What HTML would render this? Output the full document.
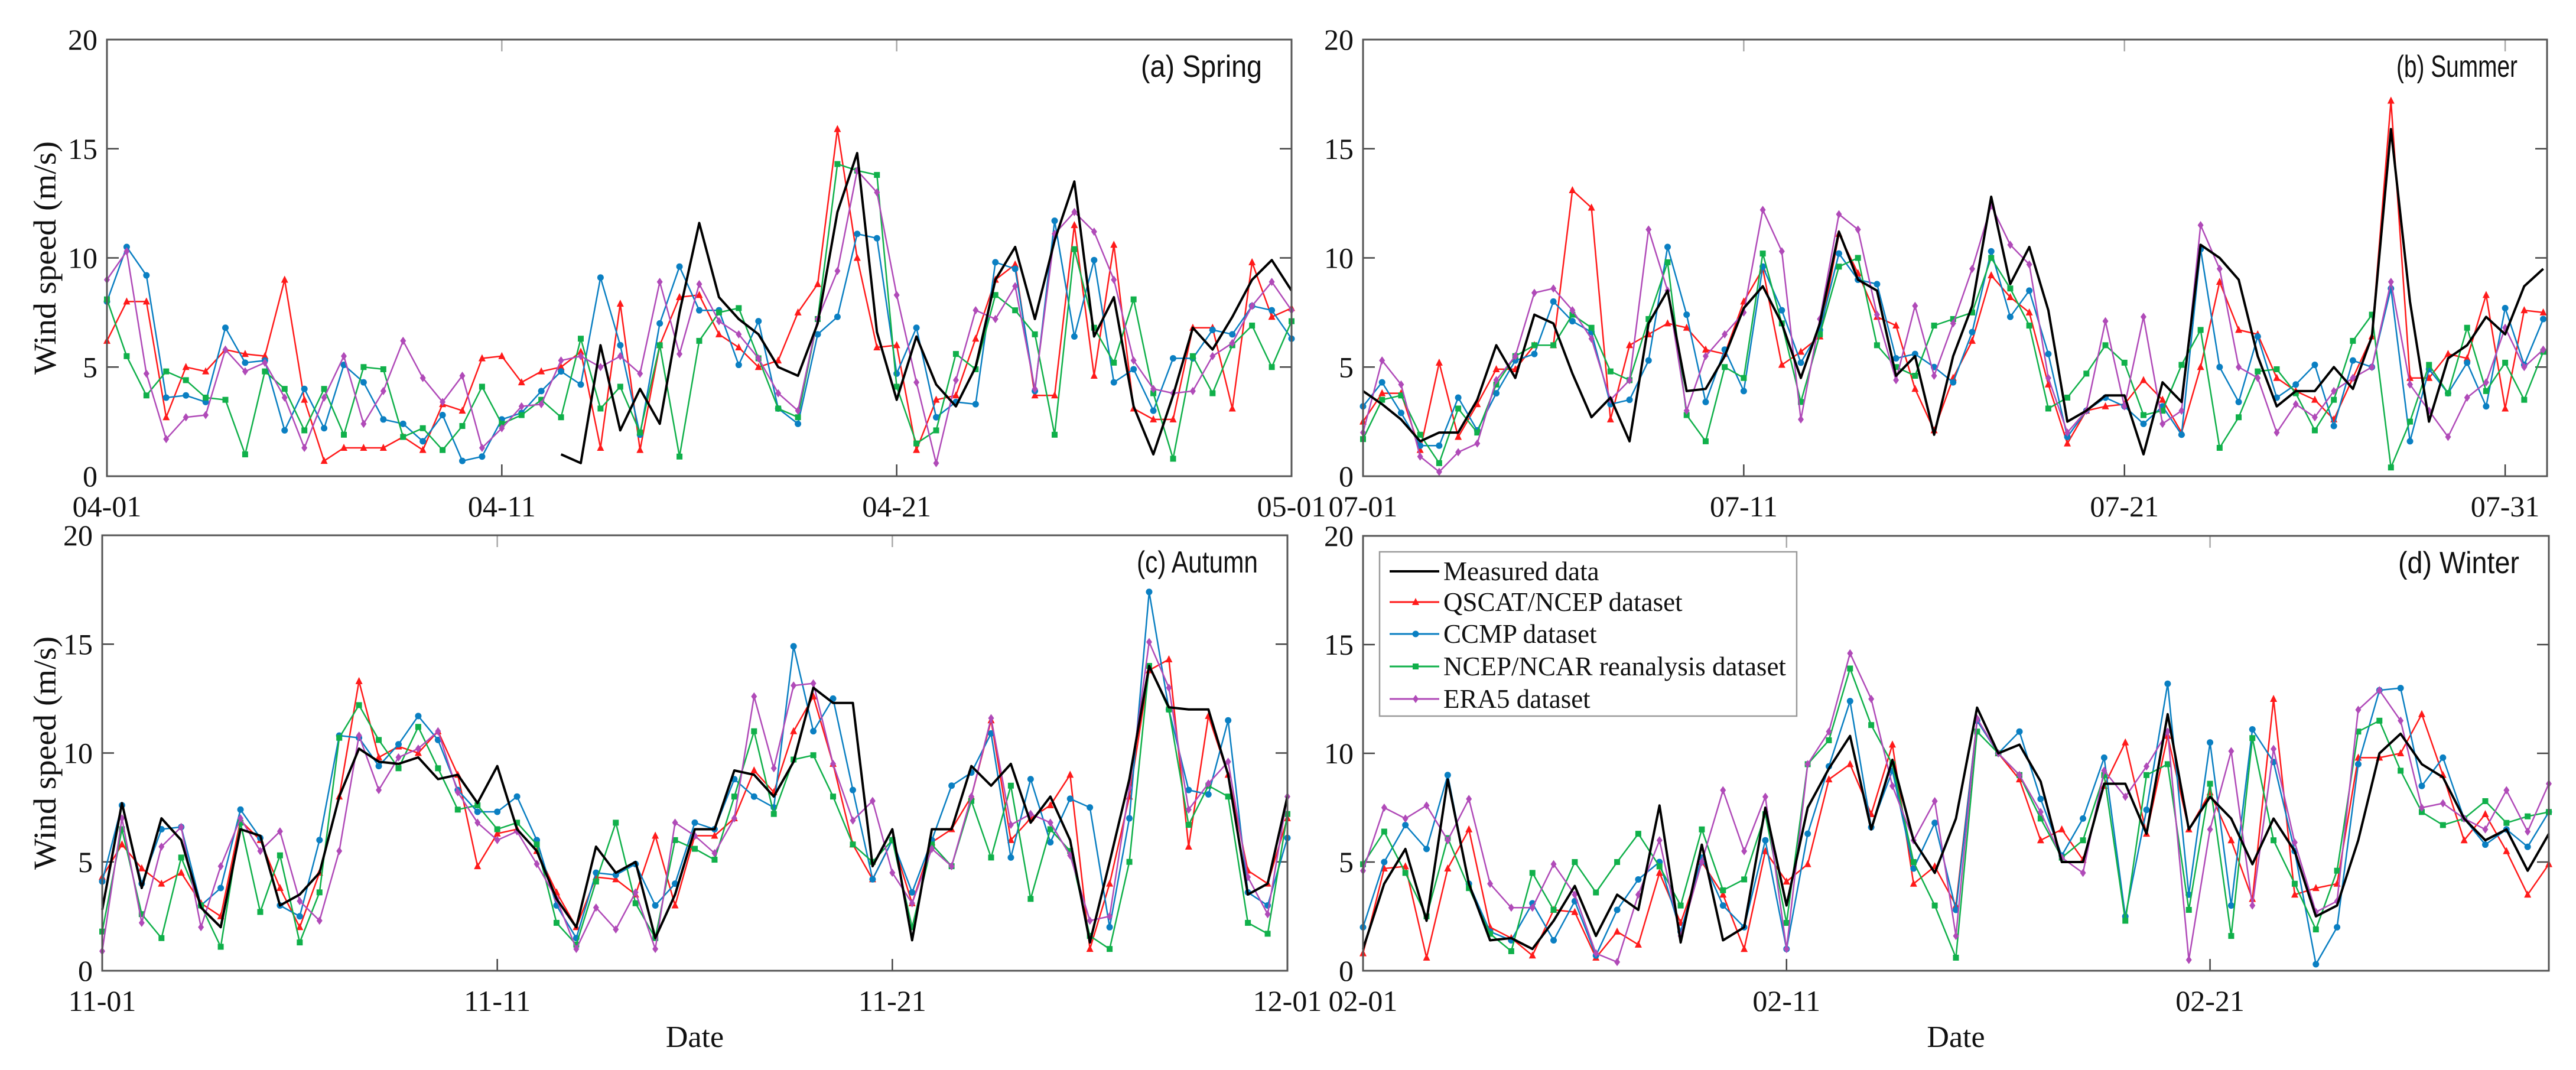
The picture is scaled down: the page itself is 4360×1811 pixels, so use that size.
<!DOCTYPE html>
<html><head><meta charset="utf-8"><style>
html,body{margin:0;padding:0;background:#fff;}
svg{display:block;}
text{font-family:"Liberation Serif",serif;fill:#111;}
.ttl{font-family:"Liberation Sans",sans-serif;}
</style></head><body>
<svg id="chart" width="4360" height="1811" viewBox="0 0 4360 1811" xmlns="http://www.w3.org/2000/svg"></svg>
<script>
// ---- data (0.5-day steps) ----
const seriesNames = ["Measured data","QSCAT/NCEP dataset","CCMP dataset","NCEP/NCAR reanalysis dataset","ERA5 dataset"];
const springTicks = ["04-01","04-11","04-21","05-01"];
const summerTicks = ["07-01","07-11","07-21","07-31"];
const autumnTicks = ["11-01","11-11","11-21","12-01"];
const winterTicks = ["02-01","02-11","02-21"];
const yTicks = [0,5,10,15,20];

const springMeasured = [null,null,null,null,null,null,null,null,null,null,null,null,null,null,null,null,null,null,null,null,null,null,null,1.0,0.6,6.0,2.1,4.0,2.4,7.5,11.6,8.2,7.2,6.5,5.0,4.6,7.0,12.1,14.8,6.6,3.5,6.4,4.2,3.2,5.0,9.0,10.5,7.2,10.8,13.5,6.4,8.2,3.2,1.0,3.7,6.8,5.8,7.3,9.0,9.9,8.5];
const springQscat = [6.2,8,8,2.7,5,4.8,5.8,5.6,5.5,9.0,3.5,0.7,1.3,1.3,1.3,1.8,1.2,3.3,3.0,5.4,5.5,4.3,4.8,5.0,5.7,1.3,7.9,1.2,6.0,8.2,8.3,6.5,5.9,5.0,5.3,7.5,8.8,15.9,10,5.9,6.0,1.2,3.5,3.7,6.3,9.0,9.7,3.7,3.7,11.5,4.6,10.6,3.1,2.6,2.6,6.8,6.8,3.1,9.8,7.3,7.7];
const springCcmp = [8,10.5,9.2,3.6,3.7,3.4,6.8,5.2,5.3,2.1,4.0,2.2,5.1,4.3,2.6,2.4,1.6,2.8,0.7,0.9,2.6,2.9,3.9,4.8,4.2,9.1,6.0,1.9,7.0,9.6,7.6,7.6,5.1,7.1,3.1,2.4,6.5,7.3,11.1,10.9,4.7,6.8,2.7,3.4,3.3,9.8,9.5,3.9,11.7,6.4,9.9,4.3,4.9,3.0,5.4,5.4,6.7,6.5,7.8,7.6,6.3];
const springNcep = [8.1,5.5,3.7,4.8,4.4,3.6,3.5,1.0,4.8,4.0,2.1,4.0,1.9,5.0,4.9,1.8,2.2,1.2,2.3,4.1,2.4,2.8,3.5,2.7,6.3,3.1,4.1,2.0,6.0,0.9,6.2,7.5,7.7,5.4,3.1,2.7,7.2,14.3,14,13.8,4.1,1.5,2.1,5.6,4.9,8.3,7.6,6.5,1.9,10.4,6.8,5.2,8.1,3.8,0.8,5.5,3.8,6.0,6.9,5.0,7.1];
const springEra5 = [9.0,10.3,4.7,1.7,2.7,2.8,5.8,4.8,5.2,3.6,1.3,3.6,5.5,2.4,3.9,6.2,4.5,3.4,4.6,1.3,2.2,3.2,3.3,5.3,5.5,5.0,5.5,4.7,8.9,5.6,8.8,7.1,6.5,5.4,3.8,3.0,7.2,9.4,14,13,8.3,4.3,0.6,4.4,7.6,7.2,8.7,4.0,11.1,12.1,11.2,9.0,5.3,4.0,3.8,3.9,5.5,6.1,7.8,8.9,7.6];

const summerMeasured = [3.9,3.3,2.6,1.6,2.0,2.0,3.5,6.0,4.5,7.4,7.0,4.7,2.7,3.6,1.6,7.0,8.5,3.9,4.0,5.5,7.7,8.7,7.0,4.5,7.0,11.2,9.0,8.5,4.6,5.5,1.9,5.5,7.8,12.8,8.8,10.5,7.6,2.5,3.0,3.7,3.7,1.0,4.3,3.4,10.6,10.0,9.0,5.5,3.2,3.9,3.9,5.0,4.0,6.4,15.9,8.0,2.5,5.4,6.0,7.3,6.5,8.7,9.5];
const summerQscat = [2.5,3.8,3.8,1.2,5.2,1.8,3.3,4.9,4.9,6.0,6.0,13.1,12.3,2.6,6.0,6.5,7.0,6.8,5.8,5.6,8.0,9.5,5.1,5.7,6.4,11.1,9.3,7.3,6.9,4.0,2.1,4.5,6.2,9.2,8.2,7.5,4.2,1.5,3.0,3.2,3.3,4.4,3.5,2.0,5.0,8.9,6.7,6.5,4.5,3.9,3.5,2.6,4.5,6.4,17.2,4.5,4.5,5.6,5.4,8.3,3.1,7.6,7.5];
const summerCcmp = [3.2,4.3,2.9,1.4,1.4,3.6,2.1,3.8,5.3,5.6,8.0,7.1,6.6,3.3,3.5,5.3,10.5,7.4,3.4,5.8,3.9,9.6,7.6,5.2,6.7,10.2,9.0,8.8,5.4,5.6,5.0,4.3,6.6,10.3,7.3,8.5,5.6,1.8,3.0,3.6,3.2,2.4,3.2,1.9,10.4,5.0,3.4,6.4,3.6,4.2,5.1,2.3,5.3,5.0,8.6,1.6,4.9,3.8,5.2,3.2,7.7,5.1,7.2];
const summerNcep = [1.7,3.5,3.7,1.9,0.6,3.1,2.0,4.2,5.5,6.0,6.0,7.4,6.8,4.8,4.4,7.2,9.8,2.8,1.6,5.0,4.5,10.2,7.0,3.4,6.5,9.6,10.0,6.0,5.0,4.6,6.9,7.2,7.5,10.0,8.6,6.9,3.1,3.6,4.7,6.0,5.2,2.8,3.0,5.1,6.7,1.3,2.7,4.8,4.9,3.8,2.1,3.5,6.2,7.4,0.4,2.5,5.1,3.8,6.8,3.9,5.2,3.5,5.7];
const summerEra5 = [2.0,5.3,4.2,0.9,0.2,1.1,1.5,4.4,5.5,8.4,8.6,7.6,6.3,3.5,4.4,11.3,8.5,3.0,5.5,6.5,7.5,12.2,10.3,2.6,7.2,12.0,11.3,7.4,4.4,7.8,4.6,7.0,9.5,12.4,10.6,9.7,4.5,2.0,3.0,7.1,3.2,7.3,2.4,3.0,11.5,9.5,5.0,4.5,2.0,3.3,2.7,3.9,4.5,5.0,8.9,4.2,3.0,1.8,3.6,4.3,6.8,5.0,5.8];

const autumnMeasured = [2.8,7.7,3.8,7.0,6.0,2.9,2.0,6.5,6.2,3.0,3.5,4.5,8.0,10.2,9.6,9.5,9.8,8.8,9.0,7.7,9.4,6.5,5.5,3.3,2.0,5.7,4.5,5.0,1.5,3.5,6.5,6.5,9.2,9.0,8.0,9.6,13.0,12.3,12.3,4.8,6.5,1.4,6.5,6.5,9.4,8.5,9.5,6.8,8.0,6.0,1.3,5.0,8.8,14.0,12.1,12.0,12.0,9.0,3.5,4.0,8.0];
const autumnQscat = [4.3,5.8,4.7,4.0,4.5,3.1,2.5,6.9,6.0,3.8,2.0,4.5,8.0,13.3,9.8,10.3,10.0,11.0,9.0,4.8,6.3,6.5,5.5,3.6,2.0,4.3,4.2,3.5,6.2,3.0,6.2,6.2,7.0,9.2,8.2,11.0,12.6,9.5,5.8,4.2,6.0,3.1,5.9,6.5,8.0,11.5,6.0,7.0,7.6,9.0,1.0,4.0,8.0,13.8,14.3,5.7,11.7,9.0,4.6,4.0,7.0];
const autumnCcmp = [4.1,7.6,4.0,6.5,6.6,3.0,3.8,7.4,6.1,3.0,2.5,6.0,10.8,10.7,9.4,10.4,11.7,10.6,8.3,7.3,7.3,8.0,6.0,3.0,1.5,4.5,4.4,4.9,3.0,4.0,6.8,6.5,8.8,8.0,7.5,14.9,11.0,12.5,8.3,4.2,6.0,3.6,6.0,8.5,9.1,10.9,5.2,8.8,5.9,7.9,7.5,2.0,7.0,17.4,12.0,8.3,8.1,11.5,3.6,3.0,6.1];
const autumnNcep = [1.8,6.5,2.6,1.5,5.2,3.0,1.1,6.8,2.7,5.3,1.3,3.6,10.7,12.2,10.6,9.3,11.2,9.3,7.4,7.6,6.5,6.8,5.8,2.2,1.2,4.1,6.8,3.1,1.5,6.0,5.6,5.1,8.0,11.0,7.2,9.7,9.9,8.0,5.8,5.0,6.0,2.0,5.8,4.8,7.8,5.2,8.5,3.3,6.5,5.5,1.6,1.0,5.0,14.0,12.0,6.7,8.5,8.0,2.2,1.7,7.2];
const autumnEra5 = [0.9,7.0,2.2,5.7,6.6,2.0,4.8,7.0,5.5,6.4,3.2,2.3,5.5,10.8,8.3,9.8,10.2,11.0,8.2,6.8,6.0,6.4,4.9,3.3,1.0,2.9,1.9,3.6,1.0,6.8,6.2,5.4,7.0,12.6,9.3,13.1,13.2,9.5,6.9,7.8,4.5,3.1,5.6,4.8,8.0,11.6,6.7,7.2,6.8,5.3,2.3,2.5,8.4,15.1,13.0,7.4,8.6,9.6,4.3,2.6,8.0];

const winterMeasured = [1.0,4.0,5.6,2.3,8.8,4.0,1.4,1.5,1.0,2.3,3.9,1.6,3.5,2.8,7.6,1.3,5.8,1.4,2.0,7.5,3.0,7.5,9.3,10.8,6.5,9.7,6.0,4.5,7.0,12.1,10.0,10.4,8.7,5.0,5.0,8.6,8.6,6.3,11.8,6.5,8.0,7.0,4.9,7.0,5.5,2.5,3.0,6.0,10.0,10.9,9.5,8.9,7.0,6.0,6.5,4.6,6.3];
const winterQscat = [0.8,4.7,4.8,0.6,4.7,6.5,2.0,1.5,0.7,2.8,2.7,0.6,1.8,1.2,4.5,2.2,5.0,3.5,1.0,5.5,4.1,4.9,8.8,9.5,7.2,10.4,4.0,4.8,3.0,11.5,10.0,8.8,6.0,6.5,5.1,8.5,10.5,6.3,10.8,6.5,8.2,6.0,3.3,12.5,3.5,3.8,4.0,9.8,9.8,10.0,11.8,9.0,6.0,7.2,5.5,3.5,4.9];
const winterCcmp = [2.0,5.0,6.7,5.6,9.0,4.0,1.8,1.4,3.1,1.4,3.2,0.7,2.8,4.2,5.0,1.8,5.2,3.0,2.0,6.0,1.0,6.3,9.4,12.4,6.6,9.2,4.7,6.8,2.8,11.5,10.0,11.0,7.9,5.3,7.0,9.8,2.5,7.4,13.2,3.5,10.5,3.0,11.1,9.6,5.5,0.3,2.0,9.5,12.9,13.0,8.5,9.8,7.0,5.8,6.5,5.7,7.3];
const winterNcep = [4.9,6.4,4.5,2.5,6.1,3.8,1.7,0.9,4.5,2.8,5.0,3.6,5.0,6.3,4.8,3.0,6.5,3.7,4.2,7.2,2.2,9.5,10.6,13.9,11.3,9.5,5.0,3.0,0.6,11.0,10.0,9.0,7.0,5.2,6.0,9.0,2.3,9.0,9.5,2.8,8.6,1.6,10.7,6.0,4.0,1.9,4.6,11.0,11.5,9.2,7.3,6.7,7.0,7.8,6.8,7.1,7.3];
const winterEra5 = [4.6,7.5,7.0,7.6,6.0,7.9,4.0,2.9,2.9,4.9,3.5,0.8,0.4,3.5,6.0,1.6,5.0,8.3,5.5,8.0,1.0,9.5,11.0,14.6,12.5,8.5,6.0,7.8,1.6,11.6,10.0,9.0,7.3,5.2,4.5,9.2,8.0,9.4,11.0,0.5,6.5,10.1,3.0,10.2,5.9,2.7,3.2,12.0,12.9,11.5,7.5,7.7,7.0,6.5,8.3,6.4,8.6];

const colors = ["#000000","#ff1a1a","#0a7fc2","#10b04a","#b04ab8"];
const markers = [null,"tri","circ","sq","dia"];
const SVGNS = "http://www.w3.org/2000/svg";
const svg = document.getElementById("chart");

function mk(tag, attrs, parent){
  const e = document.createElementNS(SVGNS, tag);
  for (const k in attrs) e.setAttribute(k, attrs[k]);
  (parent||svg).appendChild(e);
  return e;
}

const panels = [
  {key:"spring", title:"(a) Spring", x0:181, x1:2186, y0:67, y1:806, days:30, tickDays:[0,10,20,30], ticks:springTicks, data:[springMeasured,springQscat,springCcmp,springNcep,springEra5], ylab:true, xlab:false},
  {key:"summer", title:"(b) Summer", x0:2307, x1:4311, y0:67, y1:806, days:31.1, tickDays:[0,10,20,30], ticks:summerTicks, data:[summerMeasured,summerQscat,summerCcmp,summerNcep,summerEra5], ylab:false, xlab:false},
  {key:"autumn", title:"(c) Autumn", x0:173, x1:2179, y0:906, y1:1643, days:30, tickDays:[0,10,20,30], ticks:autumnTicks, data:[autumnMeasured,autumnQscat,autumnCcmp,autumnNcep,autumnEra5], ylab:true, xlab:true},
  {key:"winter", title:"(d) Winter", x0:2307, x1:4314, y0:907, y1:1643, days:28, tickDays:[0,10,20], ticks:winterTicks, data:[winterMeasured,winterQscat,winterCcmp,winterNcep,winterEra5], ylab:false, xlab:true}
];

function marker(g, type, x, y, c){
  let m;
  if (type==="tri") m = mk("polygon",{points:`${x},${y-7} ${x-6},${y+5} ${x+6},${y+5}`,fill:c},g);
  else if (type==="circ") m = mk("circle",{cx:x,cy:y,r:5.5,fill:c},g);
  else if (type==="sq") m = mk("rect",{x:x-5,y:y-5,width:10,height:10,fill:c},g);
  else m = mk("polygon",{points:`${x},${y-7} ${x+5},${y} ${x},${y+7} ${x-5},${y}`,fill:c},g);
  return m;
}

panels.forEach(p=>{
  const g = mk("g",{});
  
  
  const xs = d => p.x0 + d/p.days*(p.x1-p.x0);
  const ys = v => p.y1 - v/20*(p.y1-p.y0);
  // ticks
  p.tickDays.forEach((d,i)=>{
    const x = xs(d);
    mk("line",{x1:x,y1:p.y1,x2:x,y2:p.y1-20,stroke:"#444","stroke-width":2.5},g);
    mk("line",{x1:x,y1:p.y0,x2:x,y2:p.y0+20,stroke:"#aaa","stroke-width":2.5},g);
    const t = mk("text",{x:x,y:p.y1+68,"font-size":50,"text-anchor":"middle"},g);
    t.textContent = p.ticks[i];
    
    
  });
  yTicks.forEach(v=>{
    const y = ys(v);
    mk("line",{x1:p.x0,y1:y,x2:p.x0+20,y2:y,stroke:"#444","stroke-width":2.5},g);
    mk("line",{x1:p.x1,y1:y,x2:p.x1-20,y2:y,stroke:"#444","stroke-width":2.5},g);
    const t = mk("text",{x:p.x0-16,y:y+17,"font-size":50,"text-anchor":"end"},g);
    t.textContent = v;
    
    
  });
  // series (colored first, measured over top handled by order: draw datasets then measured)
  const order = [1,2,3,4,0];
  order.forEach(si=>{
    const arr = p.data[si];
    const sg = mk("g",{},g);
    
    
    let d = "", pen = false;
    arr.forEach((v,i)=>{
      if (v===null){pen=false;return;}
      d += (pen?"L":"M") + xs(i*0.5).toFixed(1) + " " + ys(v).toFixed(1) + " ";
      pen = true;
    });
    mk("path",{d:d,fill:"none",stroke:colors[si],"stroke-width":si===0?4:2.5,"stroke-linejoin":"round"},sg);
    if (markers[si]) arr.forEach((v,i)=>{
      if (v===null) return;
      const m = marker(sg, markers[si], xs(i*0.5), ys(v), colors[si]);
      
      
    });
  });
  // frame
  const fr = mk("rect",{x:p.x0,y:p.y0,width:p.x1-p.x0,height:p.y1-p.y0,fill:"none",stroke:"#555","stroke-width":3},g);
  
  
  const tt = mk("text",{x:p.x1-50,y:p.y0+63,"font-size":52,"text-anchor":"end","class":"ttl",textLength:205,lengthAdjust:"spacingAndGlyphs"},g);
  tt.textContent = p.title;
  
  
  if (p.ylab){
    const cy = (p.y0+p.y1)/2;
    const yl = mk("text",{x:0,y:0,"font-size":54,"text-anchor":"middle",transform:`translate(94 ${cy}) rotate(-90)`,textLength:395,lengthAdjust:"spacingAndGlyphs"},g);
    yl.textContent = "Wind speed (m/s)";
    
    
  }
  if (p.xlab){
    const xl = mk("text",{x:(p.x0+p.x1)/2,y:1772,"font-size":52,"text-anchor":"middle"},g);
    xl.textContent = "Date";
    
    
  }
});

// legend
const lg = mk("g",{});


mk("rect",{x:2335,y:934,width:706,height:278,fill:"#fff",stroke:"#999","stroke-width":2.5},lg);
const legY = [967,1019,1073,1128,1183];
seriesNames.forEach((n,i)=>{
  const e = mk("g",{},lg);
  
  
  mk("line",{x1:2352,y1:legY[i],x2:2436,y2:legY[i],stroke:colors[i],"stroke-width":i===0?4:3},e);
  if (markers[i]) marker(e, markers[i], 2396, legY[i], colors[i]);
  const t = mk("text",{x:2443,y:legY[i]+15,"font-size":45},e);
  t.textContent = n;
});
</script>
</body></html>
